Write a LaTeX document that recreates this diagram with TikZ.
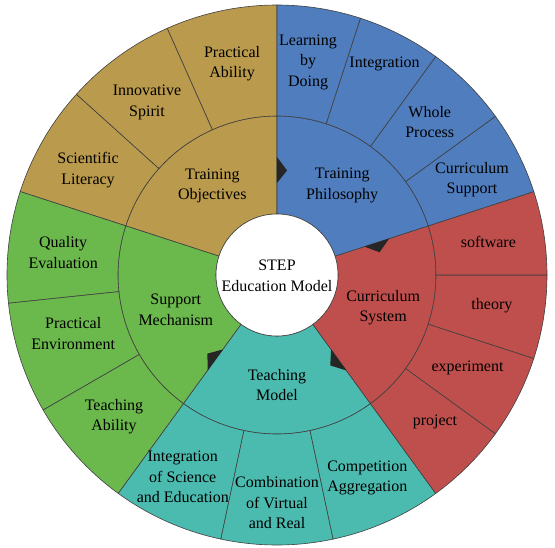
\documentclass[tikz,border=0pt]{standalone}
\usepackage{fontspec}
\setmainfont{Liberation Serif}
\definecolor{objtan}{HTML}{BA9A4C}
\definecolor{philblue}{HTML}{4F7DBE}
\definecolor{currred}{HTML}{BF4F4D}
\definecolor{teachteal}{HTML}{4BBBAF}
\definecolor{suppgreen}{HTML}{6BB84D}
\definecolor{edgegray}{HTML}{404040}
\newcommand{\ringPiece}[5]{\filldraw[piece,fill=#1] (#2:#4) arc[start angle=#2,end angle=#3,radius=#4] -- (#3:#5) arc[start angle=#3,end angle=#2,radius=#5] -- cycle;}
\newcommand{\flowTip}[1]{\fill[tipfill] (#1:92) -- (#1:118) -- (#1-5.5:105) -- cycle;}

\begin{document}
\begin{tikzpicture}[x=1pt, y=1pt]
  \tikzset{piece/.style={draw=edgegray, line width=0.6pt},
           tipfill/.style={fill=black!85},
           lbl/.style={align=center, inner sep=0pt, font=\fontsize{16}{20.5}\selectfont}}
  \useasboundingbox (-277,-272) rectangle (278,275);
  \ringPiece{objtan}{90}{162}{61}{159}
  \ringPiece{objtan}{90}{114}{159}{270}
  \ringPiece{objtan}{114}{138}{159}{270}
  \ringPiece{objtan}{138}{162}{159}{270}
  \ringPiece{suppgreen}{162}{234}{61}{159}
  \ringPiece{suppgreen}{162}{186}{159}{270}
  \ringPiece{suppgreen}{186}{210}{159}{270}
  \ringPiece{suppgreen}{210}{234}{159}{270}
  \ringPiece{teachteal}{234}{306}{61}{159}
  \ringPiece{teachteal}{234}{258}{159}{270}
  \ringPiece{teachteal}{258}{282}{159}{270}
  \ringPiece{teachteal}{282}{306}{159}{270}
  \ringPiece{currred}{306}{378}{61}{159}
  \ringPiece{currred}{306}{324}{159}{270}
  \ringPiece{currred}{324}{342}{159}{270}
  \ringPiece{currred}{342}{360}{159}{270}
  \ringPiece{currred}{360}{378}{159}{270}
  \ringPiece{philblue}{18}{90}{61}{159}
  \ringPiece{philblue}{18}{36}{159}{270}
  \ringPiece{philblue}{36}{54}{159}{270}
  \ringPiece{philblue}{54}{72}{159}{270}
  \ringPiece{philblue}{72}{90}{159}{270}
  \flowTip{90}
  \flowTip{18}
  \flowTip{-54}
  \flowTip{-126}
  \filldraw[piece,fill=white] (0,0) circle[radius=61];

  \node[lbl] (model) at (0,-1) {STEP\\Education Model};

  \node[lbl] (objectives) at (126:110) {Training\\Objectives};
  \node[lbl] (philosophy) at (54:111) {Training\\Philosophy};
  \node[lbl] (curriculum) at (-17:111) {Curriculum\\System};
  \node[lbl] (teaching) at (-90:110) {Teaching\\Model};
  \node[lbl] (support) at (199:107) {Support\\Mechanism};

  \node[lbl] (practicalability) at (102:216) {Practical\\Ability};
  \node[lbl] (innovative) at (127:216) {Innovative\\Spirit};
  \node[lbl] (scientific) at (151:216) {Scientific\\Literacy};
  \node[lbl] (learning) at (81.7:215) {Learning\\by\\Doing};
  \node[lbl] (integration) at (63:237) {Integration};
  \node[lbl] (wholeprocess) at (45:216) {Whole\\Process};
  \node[lbl] (currsupport) at (26:217) {Curriculum\\Support};
  \node[lbl] (software) at (9:214) {software};
  \node[lbl] (theory) at (-8:217) {theory};
  \node[lbl] (experiment) at (-26:212) {experiment};
  \node[lbl] (project) at (-43:216) {project};
  \node[lbl] (competition) at (-66:222) {Competition\\Aggregation};
  \node[lbl] (combination) at (-90:228) {Combination\\of Virtual\\and Real};
  \node[lbl] (scienceedu) at (-115:223) {Integration\\of Science\\and Education};
  \node[lbl] (teachability) at (221:216) {Teaching\\Ability};
  \node[lbl] (environment) at (196:212) {Practical\\Environment};
  \node[lbl] (quality) at (174:215) {Quality\\Evaluation};
\end{tikzpicture}
\end{document}
